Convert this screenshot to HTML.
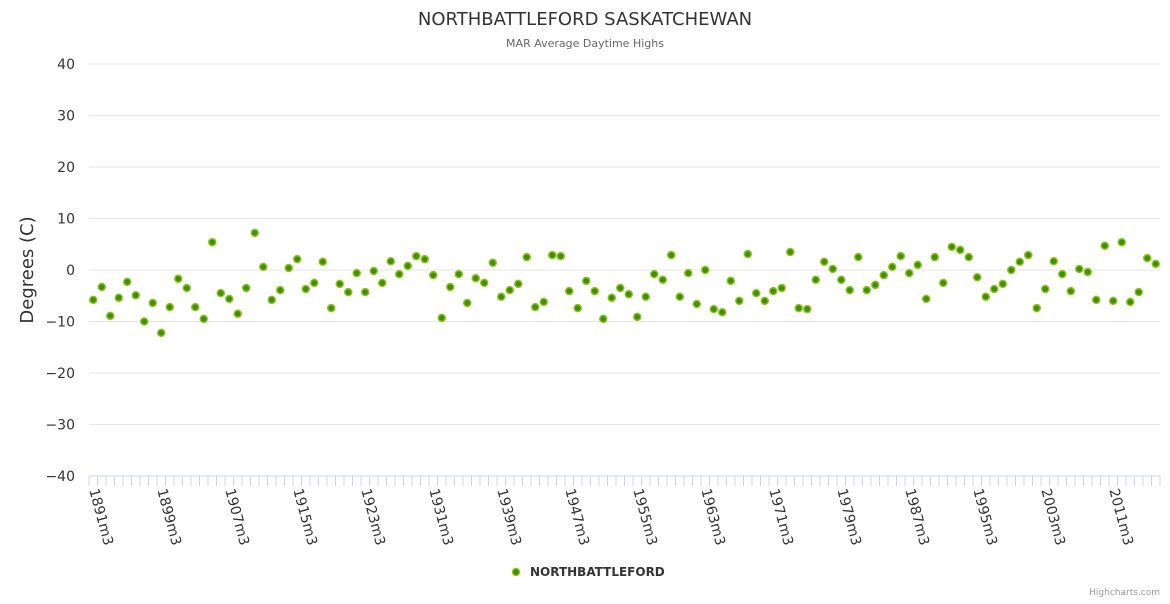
<!DOCTYPE html>
<html><head><meta charset="utf-8"><style>
body{margin:0;background:#fff;font-family:"DejaVu Sans",sans-serif}
svg text{font-family:"DejaVu Sans",sans-serif}
</style></head><body>
<svg id="c" width="1170" height="600">
<text x="585" y="25" text-anchor="middle" font-size="18" fill="#333">NORTHBATTLEFORD SASKATCHEWAN</text>
<text x="585" y="47" text-anchor="middle" font-size="11" fill="#666">MAR Average Daytime Highs</text>
<text transform="translate(33,270) rotate(-90)" text-anchor="middle" font-size="18" fill="#333">Degrees (C)</text>
<g id="grid"></g><g id="xax"></g><g id="pts"></g>
<g>
<circle cx="516" cy="572" r="3.5" fill="#3f8f00" stroke="#8cc21f" stroke-width="1.5"/>
<text x="530" y="576" font-size="12" font-weight="bold" fill="#333">NORTHBATTLEFORD</text></g>
<text x="1160" y="595" text-anchor="end" font-size="9" fill="#999">Highcharts.com</text>
</svg>
<script>
const startYear=1891;
const values=[-5.8,-3.3,-8.9,-5.4,-2.3,-4.9,-10,-6.4,-12.2,-7.2,-1.7,-3.5,-7.2,-9.5,5.4,-4.5,-5.6,-8.5,-3.5,7.2,0.6,-5.8,-3.9,0.4,2.1,-3.7,-2.5,1.6,-7.4,-2.7,-4.3,-0.6,-4.3,-0.2,-2.5,1.7,-0.8,0.8,2.7,2.1,-1,-9.3,-3.3,-0.8,-6.4,-1.6,-2.5,1.4,-5.2,-3.9,-2.7,2.5,-7.2,-6.2,2.9,2.7,-4.1,-7.4,-2.1,-4.1,-9.5,-5.4,-3.5,-4.7,-9.1,-5.2,-0.8,-1.9,2.9,-5.2,-0.6,-6.6,0,-7.6,-8.2,-2.1,-6,3.1,-4.5,-6,-4.1,-3.5,3.5,-7.4,-7.6,-1.9,1.6,0.2,-1.9,-3.9,2.5,-3.9,-2.9,-1,0.6,2.7,-0.6,1,-5.6,2.5,-2.5,4.5,3.9,2.5,-1.4,-5.2,-3.7,-2.7,0,1.6,2.9,-7.4,-3.7,1.7,-0.8,-4.1,0.2,-0.4,-5.8,4.7,-6,5.4,-6.2,-4.3,2.3,1.2];
const categories=values.map((v,i)=>(startYear+i)+"m3");
const yTicks=[40,30,20,10,0,-10,-20,-30,-40];
const NS="http://www.w3.org/2000/svg";
const L=89,R=1160,T=64,B=476,yMin=-40,yMax=40;
const bw=(R-L)/categories.length;
const xs=i=>L+(i+0.5)*bw;
const ys=v=>B-(v-yMin)/(yMax-yMin)*(B-T);
function mk(t,a,p){const e=document.createElementNS(NS,t);for(const k in a)e.setAttribute(k,a[k]);p.appendChild(e);return e;}
const g=document.getElementById('grid');
yTicks.forEach(t=>{
 const ln=mk('line',{x1:L,x2:R,y1:ys(t),y2:ys(t),stroke:t===yMin?'#ccd6eb':'#e6e6e6','stroke-width':1},g);
 
 
 const tx=mk('text',{x:75,y:ys(t)+5,'text-anchor':'end','font-size':14,fill:'#333'},g);
 tx.textContent=(t<0?'\u2212'+(-t):t);
 
 
});
const xa=document.getElementById('xax');
for(let i=0;i<=categories.length;i++){const x=L+i*bw;mk('line',{x1:x,x2:x,y1:B,y2:B+10,stroke:'#ccd6eb'},xa);}
categories.forEach((c,i)=>{if(i%8)return;
 const x=xs(i);
 const tx=mk('text',{transform:`translate(${x-4},${B+14}) rotate(75)`,'font-size':14,fill:'#333'},xa);
 tx.textContent=c;
 
 
});
const pg=document.getElementById('pts');
values.forEach((v,i)=>{
 const p=mk('circle',{cx:xs(i),cy:ys(v),r:3.5,fill:'#3f8f00',stroke:'#8cc21f','stroke-width':1.5},pg);
 
 
});
</script>
</body></html>
